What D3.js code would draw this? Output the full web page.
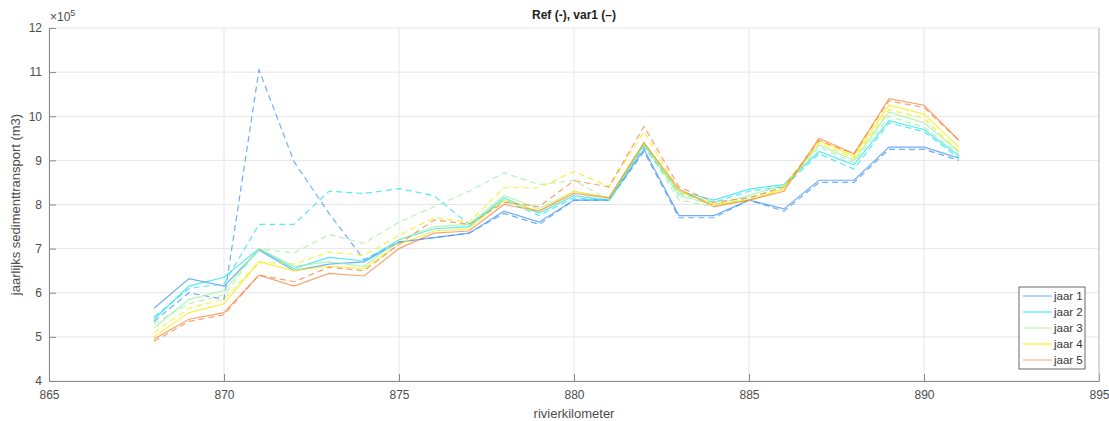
<!DOCTYPE html>
<html><head><meta charset="utf-8">
<script src="https://cdn.jsdelivr.net/npm/d3@7"></script>
<style>body{margin:0;background:#fff;font-family:"Liberation Sans",Arial,sans-serif}</style>
</head><body><svg id="c" width="1109" height="421"></svg>
<script>
const km = [868,869,870,871,872,873,874,875,876,877,878,879,880,881,882,883,884,885,886,887,888,889,890,891];
const series = ["jaar 1","jaar 2","jaar 3","jaar 4","jaar 5"];
const colors = ["#3d93f5","#1ee3f0","#9cf29c","#f2ee00","#f5843e"];
const legendColors = ["#9ccaf8","#66f5f8","#c8f8c8","#f8f540","#f8c49c"];
// Ref (solid), values x1e5 m3
const ref = [
 [5.65,6.32,6.15,6.97,6.50,6.65,6.70,7.15,7.25,7.35,7.85,7.60,8.10,8.10,9.25,7.75,7.75,8.10,7.90,8.55,8.55,9.30,9.30,9.05],
 [5.40,6.15,6.35,7.00,6.55,6.80,6.72,7.20,7.45,7.50,8.15,7.80,8.20,8.10,9.35,8.30,8.10,8.35,8.45,9.20,8.90,9.90,9.70,9.10],
 [5.20,5.85,6.05,7.00,6.60,6.70,6.60,7.20,7.50,7.55,8.20,7.90,8.30,8.15,9.40,8.20,8.00,8.20,8.45,9.35,9.00,10.10,9.85,9.20],
 [5.00,5.55,5.75,6.70,6.50,6.60,6.55,7.10,7.40,7.45,8.10,7.85,8.30,8.15,9.40,8.30,8.00,8.10,8.35,9.45,9.10,10.25,10.05,9.30],
 [4.95,5.40,5.55,6.40,6.15,6.44,6.38,7.00,7.35,7.40,8.00,7.85,8.25,8.15,9.40,8.35,7.95,8.10,8.30,9.50,9.15,10.40,10.25,9.45]
];
// var1 (dashed)
const var1 = [
 [5.35,6.00,5.85,11.05,8.97,7.80,6.75,7.15,7.25,7.35,7.80,7.55,8.10,8.10,9.20,7.70,7.70,8.10,7.85,8.50,8.50,9.25,9.25,9.00],
 [5.45,6.10,6.20,7.55,7.55,8.30,8.25,8.36,8.20,7.55,8.10,7.75,8.15,8.10,9.30,8.25,8.05,8.30,8.40,9.15,8.80,9.85,9.65,9.05],
 [5.30,5.75,5.95,7.00,6.90,7.32,7.12,7.60,7.95,8.30,8.72,8.45,8.55,8.10,9.35,8.10,7.95,8.15,8.40,9.30,8.95,10.00,9.75,9.15],
 [5.10,5.65,5.85,6.70,6.65,6.92,6.85,7.30,7.70,7.60,8.38,8.38,8.75,8.40,9.65,8.30,8.00,8.10,8.35,9.40,9.05,10.15,9.95,9.20],
 [4.90,5.35,5.50,6.40,6.25,6.58,6.50,7.10,7.65,7.55,8.05,7.95,8.54,8.40,9.77,8.40,8.05,8.15,8.40,9.45,9.15,10.35,10.20,9.45]
];
const xTicks = [865,870,875,880,885,890,895];
const yTicks = [4,5,6,7,8,9,10,11,12];

const svg = d3.select("#c");
const L=49,R=1099,T=28,B=381;
const x = d3.scaleLinear().domain([865,895]).range([L,R]);
const y = d3.scaleLinear().domain([4,12]).range([B,T]);

// grid
svg.append("g").selectAll("line").data(xTicks).join("line")
 .attr("x1",d=>x(d)).attr("x2",d=>x(d)).attr("y1",T).attr("y2",B)
 .attr("stroke","#e6e6e6").attr("stroke-width",1);
svg.append("g").selectAll("line").data(yTicks).join("line")
 .attr("x1",L).attr("x2",R).attr("y1",d=>y(d)).attr("y2",d=>y(d))
 .attr("stroke","#e6e6e6").attr("stroke-width",1);

// lines
const line = d3.line().x((d,i)=>x(km[i])).y(d=>y(d));
const g = svg.append("g");
series.forEach((s,i)=>{
  g.append("path").datum(ref[i]).attr("d",line).attr("fill","none")
   .attr("stroke",colors[i]).attr("stroke-width",1.2).attr("stroke-opacity",0.75);
  g.append("path").datum(var1[i]).attr("d",line).attr("fill","none")
   .attr("stroke",colors[i]).attr("stroke-width",1.2).attr("stroke-opacity",0.75)
   .attr("stroke-dasharray","6,4");
});

// axes
const ax = svg.append("g").attr("transform",`translate(0,${B})`)
 .call(d3.axisBottom(x).tickValues(xTicks).tickSize(-7).tickPadding(9));
const ay = svg.append("g").attr("transform",`translate(${L},0)`)
 .call(d3.axisLeft(y).tickValues(yTicks).tickSize(-7).tickPadding(7));
[ax,ay].forEach(a=>{
  a.select(".domain").attr("stroke","#8a8a8a");
  a.selectAll(".tick line").attr("stroke","#8a8a8a");
  a.selectAll("text").attr("fill","#4d4d4d").style("font-size","12px").style("font-family","Liberation Sans, Arial, sans-serif");
});
ax.select(".tick:last-of-type line").remove();
// right edge
svg.append("line").attr("x1",R).attr("x2",R).attr("y1",T).attr("y2",B).attr("stroke","#bdbdbd");

// exponent
const ex = svg.append("text").attr("x",L+1).attr("y",T-7).attr("fill","#4d4d4d")
 .style("font-size","12px");
ex.append("tspan").text("\u00d710");
ex.append("tspan").attr("dy",-5).style("font-size","9px").text("5");

// title
svg.append("text").attr("x",(L+R)/2).attr("y",19).attr("text-anchor","middle")
 .style("font-size","12px").style("font-weight","bold").attr("fill","#222")
 .text("Ref (-), var1 (\u2013)");
// axis labels
svg.append("text").attr("x",(L+R)/2).attr("y",418).attr("text-anchor","middle")
 .style("font-size","13px").attr("fill","#4d4d4d").text("rivierkilometer");
svg.append("text").attr("transform",`translate(20,${(T+B)/2}) rotate(-90)`).attr("text-anchor","middle")
 .style("font-size","13px").attr("fill","#4d4d4d").text("jaarlijks sedimenttransport (m3)");

// legend
const lg = svg.append("g").attr("transform","translate(1019,287)");
lg.append("rect").attr("width",66).attr("height",82).attr("fill","#fff").attr("stroke","#444").attr("stroke-width",0.8);
series.forEach((s,i)=>{
  const yy = 9+i*16;
  lg.append("line").attr("x1",4).attr("x2",33).attr("y1",yy).attr("y2",yy)
    .attr("stroke",legendColors[i]).attr("stroke-width",1.5);
  lg.append("text").attr("x",35).attr("y",yy+4).style("font-size","11.5px").attr("fill","#333").text(s);
});
</script></body></html>
